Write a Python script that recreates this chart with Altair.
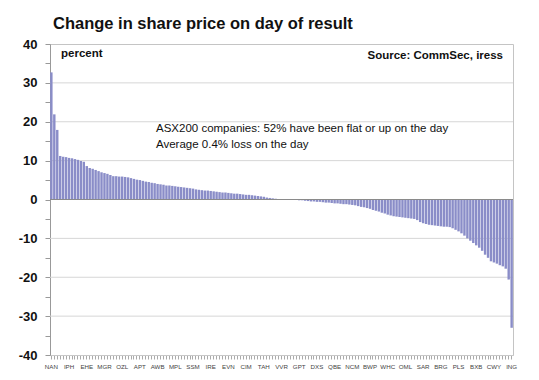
import json
import altair as alt
import pandas as pd

# Change in share price (%) on day of result, sorted descending (one bar per company)
values = [
    32.7, 21.9, 17.9, 11.2, 11.0, 10.9, 10.7, 10.6, 10.4, 10.2,
    9.9, 9.7, 8.6, 8.1, 7.9, 7.6, 7.3, 7.0, 6.8, 6.6,
    6.3, 6.0, 6.0, 5.9, 5.9, 5.8, 5.7, 5.5, 5.3, 5.1,
    5.0, 4.8, 4.6, 4.5, 4.3, 4.2, 4.0, 3.9, 3.8, 3.6,
    3.6, 3.5, 3.4, 3.3, 3.2, 3.1, 3.0, 2.9, 2.8, 2.6,
    2.5, 2.4, 2.3, 2.3, 2.2, 2.1, 2.0, 1.9, 1.8, 1.8,
    1.7, 1.6, 1.5, 1.5, 1.4, 1.3, 1.2, 1.2, 1.1, 1.0,
    0.9, 0.8, 0.7, 0.5, 0.4, 0.3, 0.2, 0.1, 0.0, 0.0,
    0.0, 0.0, -0.1, -0.1, -0.2, -0.2, -0.3, -0.4, -0.5, -0.5,
    -0.6, -0.6, -0.7, -0.8, -0.8, -0.9, -1.0, -1.0, -1.1, -1.2,
    -1.2, -1.3, -1.4, -1.5, -1.7, -1.9, -2.0, -2.2, -2.4, -2.7,
    -2.9, -3.1, -3.4, -3.6, -3.9, -4.1, -4.3, -4.4, -4.5, -4.6,
    -4.7, -4.8, -4.9, -5.0, -5.3, -5.8, -6.1, -6.3, -6.5, -6.6,
    -6.7, -6.8, -6.9, -7.0, -7.0, -7.1, -7.4, -7.8, -8.2, -8.7,
    -9.3, -10.0, -10.6, -11.2, -11.8, -12.4, -13.2, -14.2, -15.0, -15.9,
    -16.2, -16.5, -16.9, -17.2, -17.8, -20.6, -33.0,
]

tick_labels = ["NAN", "IPH", "EHE", "MGR", "OZL", "APT", "AWB", "MPL", "SSM",
               "IRE", "EVN", "CIM", "TAH", "VVR", "GPT", "DXS", "QBE", "NCM",
               "BWP", "WHC", "OML", "SAR", "BRG", "PLS", "BXB", "CWY", "ING"]
label_step = 6

grid_values = [-30, -20, -10, 10, 20, 30]
y_tick_values = list(range(-40, 45, 5))

title_text = "Change in share price on day of result"
unit_text = "percent"
source_text = "Source: CommSec, iress"
note_lines = ["ASX200 companies: 52% have been flat or up on the day",
              "Average 0.4% loss on the day"]

FONT = "Liberation Sans"

df = pd.DataFrame({"idx": list(range(len(values))), "value": values})

label_expr = (f"datum.value % {label_step} == 0 ? "
              f"{json.dumps(tick_labels)}[datum.value / {label_step}] : ''")

y_scale = alt.Scale(domain=[-40, 40], nice=False)

y_axis = alt.Axis(title=None, values=y_tick_values, grid=False,
                  labelOverlap=False,
                  labelExpr="datum.value % 10 == 0 ? '' + datum.value : ''",
                  labelFont=FONT, labelFontSize=13, labelFontWeight="bold",
                  labelColor="#111111", labelPadding=8, tickSize=5,
                  tickColor="#999999", domainColor="#999999")

grid = alt.Chart(pd.DataFrame({"g": grid_values})).mark_rule(
    color="#d6d6d6", strokeWidth=1
).encode(y=alt.Y("g:Q", scale=y_scale, axis=y_axis))

bars = alt.Chart(df).mark_bar(color="#8a8dc8").encode(
    x=alt.X("idx:O",
            scale=alt.Scale(paddingInner=0.18, paddingOuter=0.05),
            axis=alt.Axis(title=None, labelExpr=label_expr, labelAngle=0,
                          labelOverlap=False, labelFont=FONT, labelFontSize=6.2,
                          labelColor="#444444", labelPadding=4,
                          tickColor="#aaaaaa", tickSize=4, domainColor="#c8c8c8",
                          labelBound=False)),
    y=alt.Y("value:Q", scale=y_scale, axis=y_axis),
)

zero = alt.Chart(pd.DataFrame({"z": [0]})).mark_rule(
    color="#8a8a8a", strokeWidth=1
).encode(y=alt.Y("z:Q", scale=y_scale, axis=y_axis))


def text_layer(txt, x, y, size, weight="normal", align="left", baseline="middle"):
    return alt.Chart(pd.DataFrame({"t": [txt]})).mark_text(
        align=align, baseline=baseline, font=FONT, fontSize=size,
        fontWeight=weight, color="#111111"
    ).encode(text="t:N", x=alt.value(x), y=alt.value(y))


title = text_layer(title_text, 3, -15, 16.5, "bold", baseline="alphabetic")
unit = text_layer(unit_text, 11, 10, 11.5, "bold")
source = text_layer(source_text, 453, 12, 11.5, "bold", align="right")
note1 = text_layer(note_lines[0], 106, 85, 11.5)
note2 = text_layer(note_lines[1], 106, 101, 11.5)

chart = alt.layer(grid, bars, zero, title, unit, source, note1, note2).properties(
    width=463, height=311,
    autosize=alt.AutoSizeParams(type="none"),
    padding={"left": 42, "top": 36, "right": 10, "bottom": 17},
    background="white",
).configure_view(stroke="#c4c4c4", strokeWidth=1)

chart.save("out.html", embed_options={"renderer": "svg", "actions": False})
